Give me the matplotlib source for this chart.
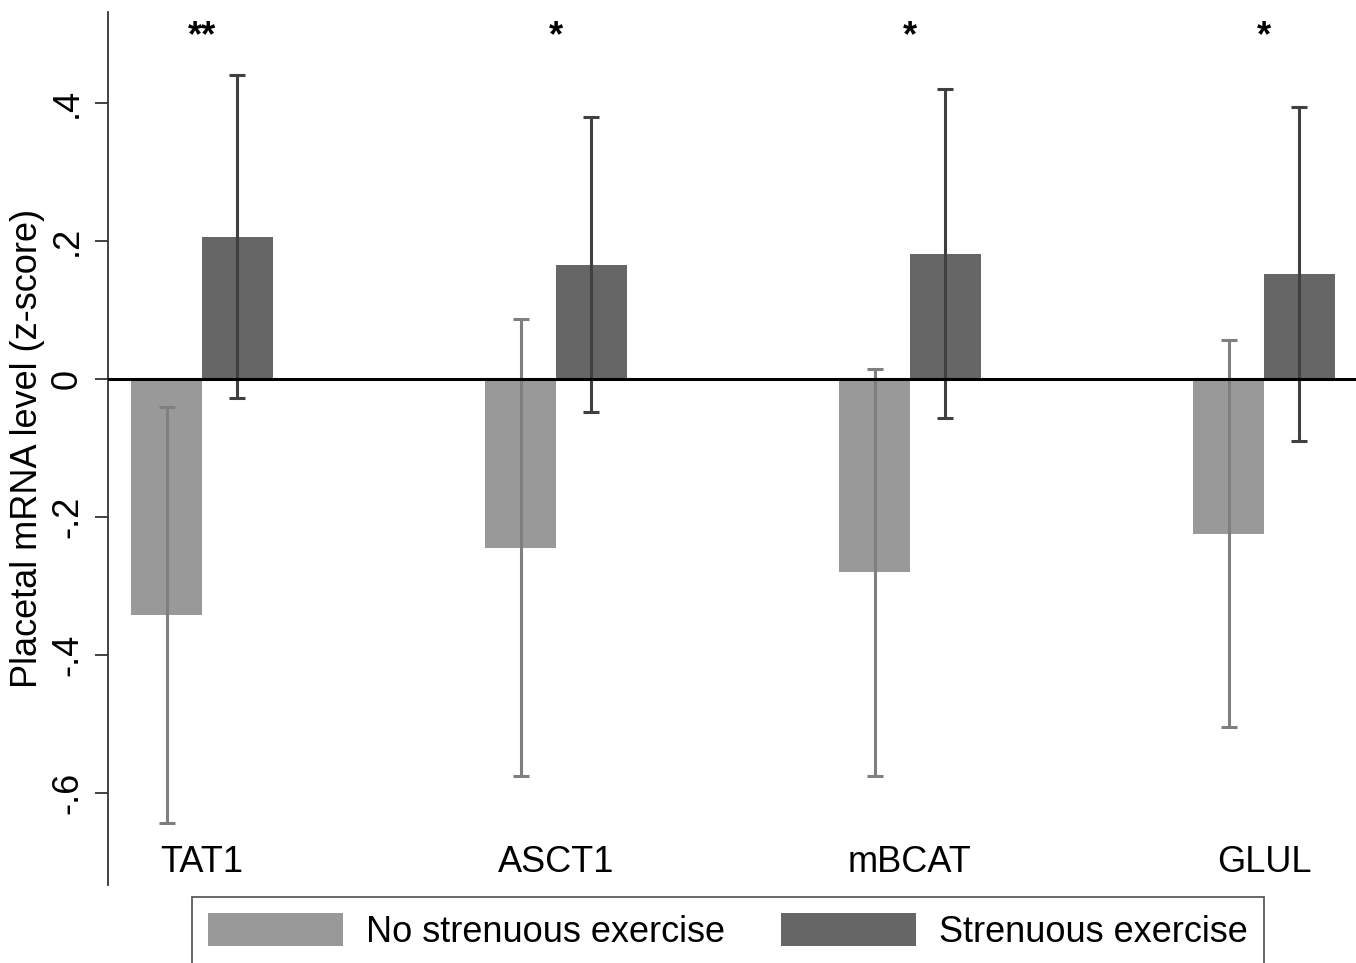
import matplotlib
matplotlib.use('Agg')
import matplotlib.pyplot as plt
import numpy as np

plt.rcParams['font.family'] = ['Liberation Sans', 'DejaVu Sans']

genes = ['TAT1', 'ASCT1', 'mBCAT', 'GLUL']
stars = ['**', '*', '*', '*']

# no strenuous exercise
no_mean = [-0.342, -0.245, -0.280, -0.225]
no_lo = [-0.643, -0.575, -0.575, -0.504]
no_hi = [-0.040, 0.087, 0.015, 0.057]

# strenuous exercise
ex_mean = [0.206, 0.166, 0.181, 0.152]
ex_lo = [-0.027, -0.047, -0.057, -0.090]
ex_hi = [0.441, 0.380, 0.420, 0.395]

yticks = [-0.6, -0.4, -0.2, 0, 0.2, 0.4]
yticklabels = ['-.6', '-.4', '-.2', '0', '.2', '.4']

light = '#999999'
dark = '#666666'
fs = 26

fig = plt.figure(figsize=(13.56, 9.63), dpi=100)
ax = fig.add_axes([108/1356, 78/963, 1248/1356, 873/963])

x = np.arange(len(genes))
w = 0.2

no_mean = np.array(no_mean); ex_mean = np.array(ex_mean)
no_err = [no_mean - np.array(no_lo), np.array(no_hi) - no_mean]
ex_err = [ex_mean - np.array(ex_lo), np.array(ex_hi) - ex_mean]

ax.bar(x - w/2, no_mean, w, color=light, label='No strenuous exercise', zorder=2)
ax.bar(x + w/2, ex_mean, w, color=dark, label='Strenuous exercise', zorder=2)
ax.errorbar(x - w/2, no_mean, yerr=no_err, fmt='none', ecolor='#7f7f7f',
            elinewidth=2.2, capsize=5.5, capthick=2.2, zorder=3)
ax.errorbar(x + w/2, ex_mean, yerr=ex_err, fmt='none', ecolor='#404040',
            elinewidth=2.2, capsize=5.5, capthick=2.2, zorder=3)
ax.axhline(0, color='black', lw=2.2, zorder=4)

for xi, g, s in zip(x, genes, stars):
    ax.text(xi, -0.70, g, ha='center', va='center', fontsize=fs)
    ax.text(xi, 0.496, s, ha='center', va='center', fontsize=26, fontweight='bold')

ax.set_xlim(-0.2655, 3.26)
ax.set_ylim(-0.733, 0.532)
ax.set_xticks([])
ax.set_yticks(yticks)
ax.set_yticklabels(yticklabels, rotation=90, va='center')
ax.tick_params(axis='y', labelsize=fs, length=9.5, width=1.3, color='#333333', pad=7)
ax.set_ylabel('Placetal mRNA level (z-score)', fontsize=fs, labelpad=4)

for sp in ['top', 'right', 'bottom']:
    ax.spines[sp].set_visible(False)
ax.spines['left'].set_color('#333333')
ax.spines['left'].set_linewidth(1.3)

leg = fig.legend(loc='upper left', bbox_to_anchor=(192/1356, 1 - 897/963),
                 ncol=2, fontsize=fs, frameon=True, fancybox=False,
                 handlelength=3.74, handleheight=1.05, handletextpad=0.64,
                 columnspacing=1.55, borderpad=0.44, borderaxespad=0)
leg.get_frame().set_edgecolor('#333333')
leg.get_frame().set_linewidth(1.3)

fig.savefig('out.png', dpi=100)
